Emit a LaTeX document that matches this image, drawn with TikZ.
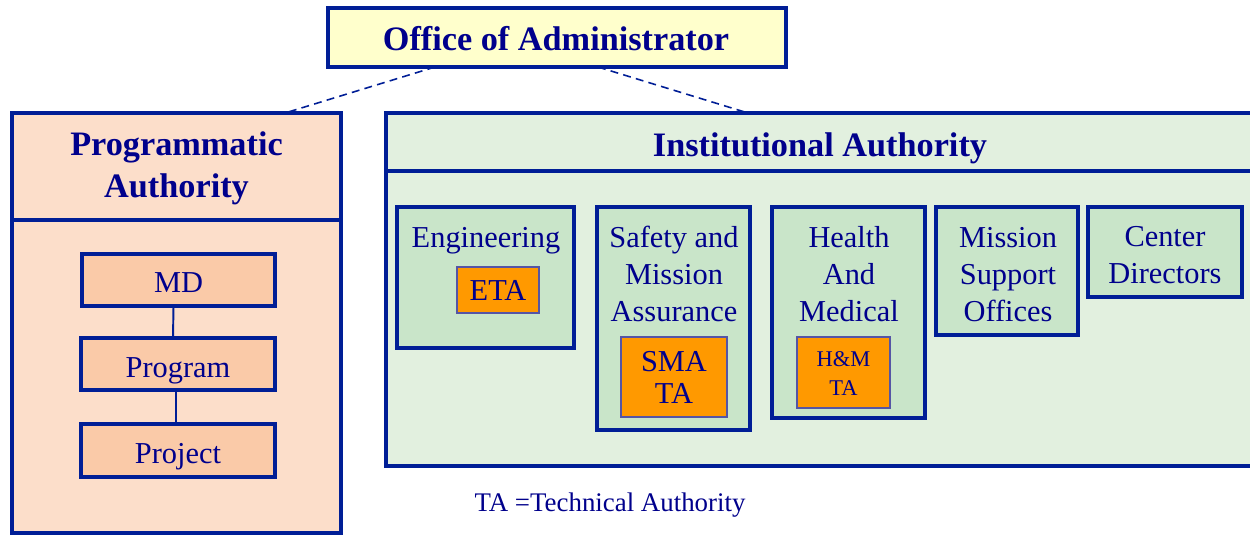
\documentclass[tikz,border=0pt]{standalone}
\usepackage{fontspec}
\setmainfont{Liberation Serif}
\definecolor{navy}{RGB}{0,0,140}
\definecolor{edge}{RGB}{0,30,150}
\definecolor{taedge}{RGB}{85,85,165}
\definecolor{peachA}{RGB}{252,222,202}
\definecolor{peachB}{RGB}{250,202,168}
\definecolor{greenA}{RGB}{226,240,223}
\definecolor{greenB}{RGB}{201,229,201}
\definecolor{paleyellow}{RGB}{255,255,204}
\definecolor{orangeTA}{RGB}{255,153,0}
\begin{document}
\begin{tikzpicture}[x=0.02cm,y=-0.02cm,
  wh/.style 2 args={minimum width=#1*0.02cm, minimum height=#2*0.02cm},
  bigbox/.style={draw=edge, line width=2.2pt, inner sep=0, outer sep=0},
  subbox/.style={draw=edge, line width=1.8pt, fill=greenB, inner sep=0, outer sep=0},
  pbox/.style={draw=edge, line width=1.8pt, fill=peachB, inner sep=0, outer sep=0},
  tabox/.style={draw=taedge, line width=1pt, fill=orangeTA, inner sep=0, outer sep=0},
  txt/.style={text=navy, font=\fontsize{17.3}{21}\selectfont, inner sep=0, align=center},
  ttl/.style={text=navy, font=\fontsize{19.5}{24}\selectfont\bfseries, inner sep=0, align=center},
  conn/.style={draw=edge, line width=1.1pt},
  dashconn/.style={draw=edge, line width=0.9pt, dash pattern=on 4.5pt off 3pt}
]
\clip (0,0) rectangle (1250,535);
\fill[white] (0,0) rectangle (1250,535);

% Office of Administrator
\node[bigbox, fill=paleyellow, wh={458}{59}] (office) at (557,37.5) {};
\node[ttl, anchor=base] (officet) at (556,50) {Office of Administrator};

% Programmatic Authority
\node[bigbox, fill=peachA, wh={329}{420}] (prog) at (176.5,323) {};
\draw[edge, line width=2.4pt] (prog.west |- 0,220) -- (prog.east |- 0,220);
\node[ttl, anchor=north] (progt) at (176.5,131) {Programmatic\\Authority};

\node[pbox, wh={193}{52}] (md) at (178.5,280) {};
\node[pbox, wh={194}{52}] (program) at (178,364) {};
\node[pbox, wh={194}{53}] (project) at (178,450.5) {};
\node[txt, anchor=base] (mdt) at (178.5,292) {MD};
\node[txt, anchor=base] (programt) at (178,377) {Program};
\node[txt, anchor=base] (projectt) at (178,463) {Project};
\draw[conn] ([xshift=-0.1cm]md.south) -- ([xshift=-0.1cm]program.north);
\draw[conn] ([xshift=-0.04cm]program.south) -- ([xshift=-0.04cm]project.north);

% Institutional Authority
\node[bigbox, fill=greenA, wh={870}{353}] (inst) at (821,289.5) {};
\draw[edge, line width=2.4pt] (inst.west |- 0,171) -- (inst.east |- 0,171);
\node[ttl, anchor=base] (instt) at (820,156) {Institutional Authority};

\node[subbox, wh={177}{141}] (eng) at (485.5,277.5) {};
\node[txt, anchor=north] (engt) at (486,227) {Engineering};
\node[tabox, wh={82}{46}] (eta) at (498,290) {};
\node[txt, anchor=base] (etat) at (498,300) {ETA};

\node[subbox, wh={153}{223}] (sma) at (673.5,318.5) {};
\node[txt, anchor=north] (smat) at (674,226) {Safety and\\Mission\\Assurance};
\node[tabox, wh={106}{80}] (smata) at (674,377) {};
\node[txt, anchor=north, font=\fontsize{17.3}{18}\selectfont] (smatat) at (674,351) {SMA\\TA};

\node[subbox, wh={153}{211}] (hm) at (848.5,312.5) {};
\node[txt, anchor=north] (hmt) at (849,226) {Health\\And\\Medical};
\node[tabox, wh={93}{71}] (hmta) at (843.5,372.5) {};
\node[txt, anchor=north, font=\fontsize{12.8}{16.7}\selectfont] (hmtat) at (843.5,351) {H\&M\\TA};

\node[subbox, wh={142}{128}] (mso) at (1007,271) {};
\node[txt, anchor=north] (msot) at (1008,227) {Mission\\Support\\Offices};

\node[subbox, wh={154}{90}] (cd) at (1165,252) {};
\node[txt, anchor=north] (cdt) at (1165,226) {Center\\Directors};

% dashed connectors
\coordinate (oa) at (435,67);
\coordinate (ob) at (598,67);
\coordinate (pa) at (285,113);
\coordinate (ia) at (748,113);
\draw[dashconn] (oa) -- (pa);
\draw[dashconn] (ob) -- (ia);

% footnote
\node[txt, anchor=base, font=\fontsize{15.3}{18}\selectfont] (note) at (610,511) {TA =Technical Authority};
\end{tikzpicture}
\end{document}
